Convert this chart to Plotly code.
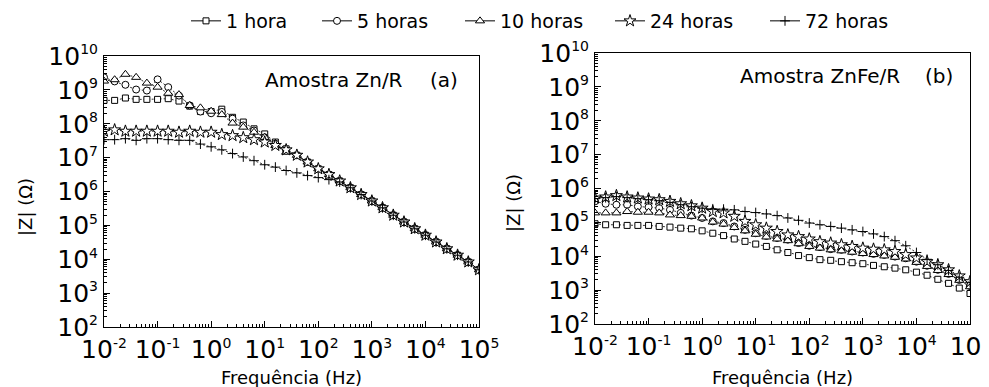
import plotly.graph_objects as go

# Frequency sweep (Hz), 5 points per decade, 1e-2 .. 1e5
freq = [0.01, 0.0158, 0.0251, 0.0398, 0.0631,
        0.1, 0.158, 0.251, 0.398, 0.631,
        1.0, 1.58, 2.51, 3.98, 6.31,
        10.0, 15.8, 25.1, 39.8, 63.1,
        100.0, 158.0, 251.0, 398.0, 631.0,
        1000.0, 1580.0, 2510.0, 3980.0, 6310.0,
        10000.0, 15800.0, 25100.0, 39800.0, 63100.0,
        100000.0]

series_names = ["1 hora", "5 horas", "10 horas", "24 horas", "72 horas"]

# log10 |Z| (Ohm) - Amostra Zn/R
zn_1h = [8.69, 8.69, 8.76, 8.72, 8.72, 8.72, 8.74, 8.67, 8.52, 8.36, 8.36, 8.43,
         8.19, 8.05, 7.85, 7.70, 7.46, 7.26, 7.07, 6.87, 6.67, 6.50, 6.31, 6.11,
         5.91, 5.72, 5.52, 5.30, 5.10, 4.90, 4.71, 4.51, 4.31, 4.12, 3.92, 3.69]
zn_5h = [9.37, 9.25, 9.15, 9.01, 8.98, 9.31, 9.08, 8.83, 8.54, 8.36, 8.31, 8.35,
         8.15, 7.95, 7.80, 7.60, 7.41, 7.21, 7.07, 6.87, 6.67, 6.50, 6.31, 6.11,
         5.91, 5.72, 5.52, 5.30, 5.10, 4.90, 4.71, 4.51, 4.31, 4.12, 3.92, 3.69]
zn_10h = [9.26, 9.30, 9.46, 9.37, 9.20, 9.08, 8.90, 8.86, 8.54, 8.47, 8.37, 8.27,
          8.02, 7.90, 7.75, 7.60, 7.36, 7.16, 7.07, 6.87, 6.67, 6.50, 6.31, 6.11,
          5.91, 5.72, 5.52, 5.30, 5.10, 4.90, 4.71, 4.51, 4.31, 4.12, 3.92, 3.69]
zn_24h = [7.78, 7.82, 7.78, 7.78, 7.78, 7.78, 7.78, 7.75, 7.78, 7.75, 7.75, 7.68,
          7.65, 7.59, 7.53, 7.46, 7.36, 7.23, 7.07, 6.87, 6.67, 6.50, 6.31, 6.11,
          5.91, 5.72, 5.52, 5.30, 5.10, 4.90, 4.71, 4.51, 4.31, 4.12, 3.92, 3.69]
zn_72h = [7.53, 7.53, 7.56, 7.51, 7.56, 7.56, 7.53, 7.51, 7.51, 7.40, 7.32, 7.23,
          7.12, 7.02, 6.91, 6.79, 6.72, 6.62, 6.55, 6.47, 6.41, 6.35, 6.28, 6.11,
          5.91, 5.72, 5.52, 5.30, 5.10, 4.90, 4.71, 4.51, 4.31, 4.12, 3.92, 3.69]

# log10 |Z| (Ohm) - Amostra ZnFe/R
znfe_1h = [4.96, 4.93, 4.93, 4.91, 4.91, 4.91, 4.88, 4.86, 4.83, 4.81, 4.75, 4.68,
           4.61, 4.51, 4.44, 4.36, 4.29, 4.19, 4.11, 4.02, 3.96, 3.90, 3.88, 3.84,
           3.81, 3.78, 3.73, 3.69, 3.65, 3.60, 3.53, 3.44, 3.32, 3.20, 3.06, 2.90]
znfe_5h = [5.62, 5.55, 5.52, 5.52, 5.47, 5.45, 5.42, 5.37, 5.28, 5.20, 5.13, 5.03,
           4.98, 4.88, 4.78, 4.68, 4.60, 4.54, 4.49, 4.39, 4.31, 4.27, 4.21, 4.19,
           4.14, 4.11, 4.07, 4.04, 3.99, 3.94, 3.84, 3.72, 3.60, 3.48, 3.30, 3.12]
znfe_10h = [5.28, 5.28, 5.28, 5.32, 5.30, 5.30, 5.28, 5.22, 5.20, 5.18, 5.13, 5.01,
            4.95, 4.85, 4.75, 4.65, 4.57, 4.51, 4.46, 4.37, 4.29, 4.24, 4.19, 4.16,
            4.12, 4.08, 4.05, 4.01, 3.97, 3.92, 3.82, 3.70, 3.58, 3.46, 3.29, 3.10]
znfe_24h = [5.72, 5.75, 5.79, 5.75, 5.72, 5.69, 5.67, 5.62, 5.55, 5.49, 5.42, 5.32,
            5.28, 5.18, 5.03, 4.93, 4.83, 4.73, 4.63, 4.58, 4.51, 4.43, 4.39, 4.34,
            4.29, 4.24, 4.21, 4.19, 4.14, 4.05, 3.95, 3.84, 3.75, 3.60, 3.42, 3.25]
znfe_72h = [5.70, 5.73, 5.76, 5.73, 5.70, 5.67, 5.64, 5.59, 5.52, 5.46, 5.42, 5.40,
            5.39, 5.37, 5.32, 5.29, 5.25, 5.20, 5.13, 5.06, 4.98, 4.93, 4.88, 4.83,
            4.78, 4.73, 4.66, 4.58, 4.46, 4.31, 4.11, 3.91, 3.75, 3.58, 3.38, 3.22]

x_tick_vals = [1e-2, 1e-1, 1e0, 1e1, 1e2, 1e3, 1e4, 1e5]
x_tick_exp = ["-2", "-1", "0", "1", "2", "3", "4", "5"]
y_tick_vals = [1e2, 1e3, 1e4, 1e5, 1e6, 1e7, 1e8, 1e9, 1e10]
y_tick_exp = ["2", "3", "4", "5", "6", "7", "8", "9", "10"]

panel_a = [zn_1h, zn_5h, zn_10h, zn_24h, zn_72h]
panel_b = [znfe_1h, znfe_5h, znfe_10h, znfe_24h, znfe_72h]

symbols = ["square", "circle", "triangle-up", "star", "cross-thin"]
sizes = [6, 7, 8, 9, 7]

FONT = "DejaVu Sans, Verdana, sans-serif"
PAGE_OFF = 8          # default body margin of the html page
W, H = 981, 379       # figure size (page is 989 x 387)


def px(xpage):
    return (xpage - PAGE_OFF) / W


def py(ypage):
    return 1 - (ypage - PAGE_OFF) / H


def sup_label(e):
    return "10<sup><span style='font-size:14px'>" + e + "</span></sup>"


x_tick_text = [sup_label(e) for e in x_tick_exp]
y_tick_text = [sup_label(e) for e in y_tick_exp]

fig = go.Figure()


def marker(i):
    if symbols[i] == "cross-thin":
        return dict(symbol="cross-thin", size=sizes[i], color="black",
                    line=dict(color="black", width=1))
    return dict(symbol=symbols[i], size=sizes[i], color="white",
                line=dict(color="black", width=1))


for panel, (xa, ya) in zip([panel_a, panel_b], [("x", "y"), ("x2", "y2")]):
    for i, logz in enumerate(panel):
        fig.add_trace(go.Scatter(
            x=freq, y=[10 ** v for v in logz], xaxis=xa, yaxis=ya,
            mode="lines+markers", name=series_names[i], showlegend=False,
            line=dict(color="black", width=0.8, dash="2px,2px"),
            marker=marker(i)))

# legend entries (solid line samples), one small legend per entry
legend_ids = ["legend", "legend2", "legend3", "legend4", "legend5"]
legend_text_x = [226, 357, 500, 650, 805]   # page x where each label starts
for i, name in enumerate(series_names):
    fig.add_trace(go.Scatter(
        x=[None], y=[None], xaxis="x", yaxis="y", mode="lines+markers",
        name=name, showlegend=True, legend=legend_ids[i],
        line=dict(color="black", width=1), marker=marker(i)))

minor_x = [m * 10 ** d for d in range(-2, 5) for m in range(2, 10)]
minor_y = [m * 10 ** d for d in range(2, 10) for m in range(2, 10)]


def xaxis(domain, anchor):
    return dict(type="log", domain=domain, range=[-2, 5], anchor=anchor,
                tickmode="array", tickvals=x_tick_vals, ticktext=x_tick_text,
                ticks="inside", ticklen=6, tickwidth=1, tickcolor="black",
                showline=True, linecolor="black", linewidth=1, mirror=True,
                showgrid=False, zeroline=False, automargin=False,
                ticklabeloverflow="allow",
                tickfont=dict(size=25, family=FONT, color="black"),
                minor=dict(tickmode="array", tickvals=minor_x, ticks="inside",
                           ticklen=3, tickcolor="black", showgrid=False))


def yaxis(domain, anchor):
    return dict(type="log", domain=domain, range=[2, 10], anchor=anchor,
                tickmode="array", tickvals=y_tick_vals, ticktext=y_tick_text,
                ticks="inside", ticklen=6, tickwidth=1, tickcolor="black",
                showline=True, linecolor="black", linewidth=1, mirror=True,
                showgrid=False, zeroline=False, automargin=False,
                ticklabeloverflow="allow",
                tickfont=dict(size=25, family=FONT, color="black"),
                minor=dict(tickmode="array", tickvals=minor_y, ticks="inside",
                           ticklen=3, tickcolor="black", showgrid=False))


layout = dict(
    width=W, height=H,
    margin=dict(l=0, r=0, t=0, b=0, autoexpand=False),
    paper_bgcolor="white", plot_bgcolor="white",
    font=dict(family=FONT, color="black"),
    xaxis=xaxis([px(104), px(479)], "y"),
    yaxis=yaxis([py(327), py(56)], "x"),
    xaxis2=xaxis([px(595), px(970)], "y2"),
    yaxis2=yaxis([py(324), py(53)], "x2"),
)

for i, lid in enumerate(legend_ids):
    layout[lid] = dict(orientation="h", x=px(legend_text_x[i] - 40), xanchor="left",
                       y=py(21), yanchor="middle",
                       font=dict(size=19, family=FONT, color="black"),
                       bgcolor="rgba(0,0,0,0)", borderwidth=0)

txt = dict(size=20, family=FONT, color="black")
ttl = dict(size=18, family=FONT, color="black")


def note(text, xp, yp, font, angle=0):
    return dict(text=text, x=px(xp), y=py(yp), xref="paper", yref="paper",
                xanchor="center", yanchor="middle", showarrow=False,
                textangle=angle, font=font)


layout["annotations"] = [
    note("Amostra Zn/R", 334, 80, txt),
    note("(a)", 444, 80, txt),
    note("Amostra ZnFe/R", 820, 76, txt),
    note("(b)", 939, 76, txt),
    note("Frequência (Hz)", 291, 377, ttl),
    note("Frequência (Hz)", 782, 377, ttl),
    note("|Z| (Ω)", 25, 207, ttl, -90),
    note("|Z| (Ω)", 513, 203, ttl, -90),
]

fig.update_layout(**layout)

fig.write_html("out.html")
